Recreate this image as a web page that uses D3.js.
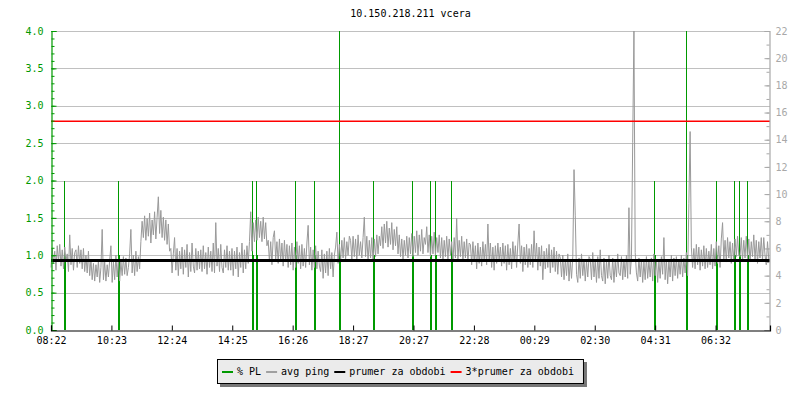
<!DOCTYPE html>
<html lang="en">
  <head>
    <meta charset="UTF-8" />
    <title>10.150.218.211 vcera</title>
    <script src="https://cdn.jsdelivr.net/npm/d3@7"></script>
    <style>
      body {
        margin: 0;
        background: #fff;
      }
      svg text {
        font-family: "DejaVu Sans Mono", monospace;
        font-size: 10px;
      }
      .grid line {
        stroke: #c0c0c0;
      }
    </style>
  </head>
  <body>
    <div id="my_dataviz"></div>
    <script>
      var title = "10.150.218.211 vcera";

      // x axis: minutes since 08:22, one label every 121 minutes
      var tickMinutes = [0, 121, 242, 363, 484, 605, 726, 847, 968, 1089, 1210, 1331];
      var timeLabels = ["08:22", "10:23", "12:24", "14:25", "16:26", "18:27",
        "20:27", "22:28", "00:29", "02:30", "04:31", "06:32"];

      // avg ping [ms], one sample every 2.5 minutes (right axis), one row per hour
      var pingMs = [
        4.6, 6.0, 4.9, 5.8, 4.4, 6.2, 5.0, 6.3, 4.7, 5.9, 4.5, 6.1, 5.1, 5.6, 4.3, 7.0, 4.8, 6.0, 4.4, 5.7, 5.9, 4.6, 6.2, 4.9,
        5.9, 4.5, 6.0, 4.3, 5.5, 4.2, 5.8, 4.0, 5.2, 3.7, 4.9, 3.6, 4.8, 3.9, 5.1, 3.5, 4.6, 7.4, 3.7, 5.0, 3.6, 4.8, 3.9, 5.1,
        6.2, 3.5, 5.0, 3.7, 5.5, 3.9, 5.2, 3.6, 5.0, 4.0, 5.4, 4.1, 5.3, 4.0, 4.6, 5.6, 7.4, 4.2, 5.5, 4.0, 5.8, 4.3, 5.4, 4.5,
        6.5, 8.0, 6.8, 8.4, 6.6, 8.2, 6.9, 8.6, 6.4, 8.1, 7.0, 8.7, 6.7, 8.3, 9.8, 7.1, 8.8, 6.8, 8.3, 6.6, 8.1, 6.3, 7.8, 5.8,
        6.0, 4.2, 5.6, 6.8, 4.4, 6.0, 4.0, 5.8, 4.5, 6.1, 4.1, 5.9, 4.6, 6.3, 3.9, 5.7, 4.3, 6.4, 4.7, 4.2, 6.0, 4.4, 5.8, 4.5,
        5.9, 4.3, 6.2, 4.5, 5.7, 4.1, 6.1, 4.6, 5.8, 4.3, 6.4, 4.2, 7.9, 4.7, 6.0, 4.3, 6.3, 4.6, 4.2, 5.9, 4.6, 6.2, 4.4, 5.8,
        4.4, 6.0, 4.0, 5.8, 4.5, 6.1, 3.9, 5.7, 4.6, 6.4, 4.2, 5.9, 4.5, 6.2, 4.9, 6.5, 8.7, 5.8, 7.9, 6.5, 8.1, 6.6, 8.3, 6.8,
        8.0, 6.5, 8.3, 6.7, 7.9, 6.2, 6.6, 5.0, 6.5, 4.8, 6.8, 7.3, 5.2, 6.5, 4.9, 6.7, 5.1, 6.4, 4.7, 6.6, 5.0, 6.3, 4.6, 6.2,
        4.8, 6.4, 4.4, 6.1, 4.6, 6.5, 4.9, 6.2, 4.5, 6.3, 4.7, 6.0, 4.6, 6.4, 7.7, 4.8, 6.1, 4.4, 5.9, 4.6, 6.2, 4.5, 5.8, 4.7,
        4.3, 5.9, 3.8, 5.6, 4.2, 5.8, 4.0, 6.0, 4.5, 5.7, 3.9, 5.5, 6.1, 7.2, 4.9, 6.3, 5.1, 6.6, 5.3, 6.8, 5.2, 6.5, 5.5, 6.9,
        6.6, 5.2, 6.9, 5.4, 6.7, 5.1, 7.0, 5.5, 6.5, 5.3, 6.8, 8.3, 5.4, 6.9, 5.1, 6.6, 5.3, 6.8, 5.0, 6.7, 5.4, 7.0, 5.6, 6.9,
        6.2, 7.6, 6.0, 7.8, 6.4, 8.0, 6.1, 7.5, 6.3, 7.9, 5.9, 7.4, 6.2, 7.6, 5.6, 7.0, 5.4, 6.7, 5.2, 6.6, 5.5, 6.9, 5.3, 6.8,
        5.6, 7.1, 5.4, 6.9, 5.7, 7.3, 5.5, 7.0, 5.8, 7.4, 5.6, 6.8, 6.3, 7.6, 5.7, 7.0, 5.4, 6.9, 5.6, 7.2, 5.5, 6.8, 5.7, 7.0,
        5.3, 6.8, 5.1, 6.6, 5.4, 6.9, 5.2, 6.7, 5.5, 6.5, 5.0, 6.8, 5.3, 8.2, 5.2, 6.6, 5.4, 6.9, 5.1, 6.5, 5.3, 6.7, 5.0, 6.4,
        6.3, 4.8, 6.5, 5.0, 6.2, 4.5, 6.4, 4.9, 6.1, 4.7, 6.5, 5.1, 6.3, 4.8, 7.8, 5.0, 6.4, 4.6, 6.1, 4.4, 6.2, 4.9, 6.4, 5.1,
        6.1, 4.7, 6.4, 4.9, 6.2, 4.4, 6.3, 4.8, 6.0, 4.5, 6.5, 5.0, 6.2, 4.6, 6.4, 7.8, 4.9, 6.2, 4.3, 6.1, 4.8, 6.3, 4.6, 6.0,
        4.8, 6.3, 4.6, 7.3, 5.0, 6.4, 4.4, 6.1, 4.7, 6.2, 3.7, 5.8, 4.5, 6.0, 4.6, 6.3, 4.2, 5.9, 4.6, 6.1, 4.3, 5.8, 4.1, 5.6,
        5.3, 3.9, 5.5, 3.7, 5.2, 4.0, 5.6, 3.6, 5.1, 3.8, 5.4, 11.8, 8.4, 4.1, 3.5, 5.3, 3.8, 5.6, 4.0, 5.2, 3.6, 5.1, 3.9, 5.4,
        5.2, 3.7, 5.7, 3.9, 5.1, 3.5, 5.4, 3.8, 5.9, 4.0, 3.6, 5.3, 3.4, 5.1, 3.8, 5.5, 4.0, 3.7, 5.3, 3.5, 5.0, 3.9, 5.6, 4.2,
        4.0, 5.4, 3.7, 5.2, 3.9, 5.5, 3.8, 9.0, 4.1, 5.3, 13.8, 22.0, 5.7, 4.2, 3.6, 5.3, 3.9, 5.2, 3.5, 5.0, 3.7, 5.4, 3.8, 5.1,
        3.9, 5.3, 3.6, 5.6, 4.0, 5.2, 3.5, 5.1, 3.8, 5.4, 4.1, 6.8, 3.7, 5.2, 3.4, 5.1, 3.9, 5.5, 3.6, 5.3, 4.0, 5.4, 3.8, 5.2,
        4.1, 5.5, 3.9, 5.3, 4.2, 5.7, 4.0, 9.3, 14.6, 6.1, 4.6, 6.0, 4.5, 6.3, 4.8, 6.1, 4.4, 5.9, 4.7, 6.2, 4.5, 6.0, 4.6, 5.8,
        4.8, 6.3, 4.5, 6.0, 4.7, 6.5, 4.9, 6.2, 4.6, 6.7, 7.9, 5.2, 6.6, 5.0, 6.8, 5.3, 6.5, 4.9, 6.4, 5.1, 6.7, 5.4, 6.9, 5.5,
        5.4, 6.8, 5.1, 6.6, 5.3, 6.9, 5.2, 6.7, 5.0, 6.5, 5.4, 7.0, 5.2, 6.6, 4.9, 6.5, 5.3, 6.8, 5.1, 6.8, 5.5, 4.8, 6.5, 5.2
      ];
      var pingStepMin = 2.5;

      // packet loss [%] spikes (left axis)
      var plMinutes = [27, 135, 402, 410, 489, 526, 576, 644, 723, 759, 770, 802,
        1208, 1271, 1332, 1367, 1377, 1393];
      var plValues = [2, 2, 2, 2, 2, 2, 4, 2, 2, 2, 2, 2, 2, 4, 2, 2, 2, 2];
      var plBase = 1.0;

      var meanPing = 5.12;
      var meanPing3 = 15.36;

      var legendLabels = ["% PL", "avg ping", "prumer za obdobi", "3*prumer za obdobi"];
      var legendColors = ["#009900", "#a0a0a0", "#000000", "#ff0000"];

      var W = 800,
        H = 400;
      var margin = { top: 31, right: 30, bottom: 70, left: 51 };
      var green = "#009900",
        rightGray = "#a8a8a8";

      var svg = d3
        .select("#my_dataviz")
        .append("svg")
        .attr("width", W)
        .attr("height", H)
        .style("display", "block");

      var x = d3
        .scaleLinear()
        .domain([0, 1440])
        .range([margin.left, W - margin.right]);
      var yL = d3
        .scaleLinear()
        .domain([0, 4])
        .range([H - margin.bottom, margin.top]);
      var yR = d3
        .scaleLinear()
        .domain([0, 22])
        .range([H - margin.bottom, margin.top]);

      // title
      svg
        .append("text")
        .attr("x", (margin.left + W - margin.right) / 2)
        .attr("y", 17)
        .attr("text-anchor", "middle")
        .attr("fill", "#000")
        .text(title);

      // grid
      svg
        .append("g")
        .attr("class", "grid")
        .selectAll("line")
        .data(d3.range(0.5, 4.01, 0.5))
        .enter()
        .append("line")
        .attr("x1", x(0))
        .attr("x2", x(1440))
        .attr("y1", (d) => Math.round(yL(d)) + 0.5)
        .attr("y2", (d) => Math.round(yL(d)) + 0.5);

      // packet loss spikes
      var pl = svg.append("g").attr("shape-rendering", "crispEdges");
      pl.selectAll("line")
        .data(plMinutes)
        .enter()
        .append("line")
        .attr("x1", (d) => Math.round(x(d)) + 0.5)
        .attr("x2", (d) => Math.round(x(d)) + 0.5)
        .attr("y1", yL(0))
        .attr("y2", (d, i) => yL(plValues[i]))
        .attr("stroke", green)
        .attr("stroke-width", 1);
      pl.selectAll("rect")
        .data(plMinutes)
        .enter()
        .append("rect")
        .attr("x", (d) => Math.round(x(d)))
        .attr("y", yL(plBase))
        .attr("width", 2)
        .attr("height", yL(0) - yL(plBase))
        .attr("fill", green);

      // avg ping
      var pingLine = d3
        .line()
        .x((d, i) => x(i * pingStepMin))
        .y((d) => yR(Math.min(d, 22)));
      svg
        .append("path")
        .datum(pingMs)
        .attr("d", pingLine)
        .attr("fill", "none")
        .attr("stroke", "#999999")
        .attr("stroke-width", 1);

      // mean lines
      svg
        .append("line")
        .attr("x1", x(0))
        .attr("x2", x(1440))
        .attr("y1", yR(meanPing))
        .attr("y2", yR(meanPing))
        .attr("stroke", "#000")
        .attr("stroke-width", 3);
      svg
        .append("line")
        .attr("x1", x(0))
        .attr("x2", x(1440))
        .attr("y1", yR(meanPing3))
        .attr("y2", yR(meanPing3))
        .attr("stroke", "#ff0000")
        .attr("stroke-width", 1.5);

      function styleAxis(g, color) {
        g.attr("font-family", null).attr("font-size", null);
        g.selectAll(".domain, line").attr("stroke", color);
        g.selectAll("text").attr("fill", color);
      }

      // left axis (green), major + minor ticks pointing inside
      var gL = svg
        .append("g")
        .attr("transform", "translate(" + (margin.left + 0.5) + ",0)")
        .call(
          d3
            .axisLeft(yL)
            .tickValues(d3.range(0, 4.01, 0.5))
            .tickSize(-5)
            .tickPadding(8)
            .tickFormat(d3.format(".1f"))
        );
      styleAxis(gL, green);
      var gLm = svg
        .append("g")
        .attr("transform", "translate(" + (margin.left + 0.5) + ",0)")
        .call(d3.axisLeft(yL).tickValues(d3.range(0, 4.01, 0.1)).tickSize(-3).tickFormat(""));
      gLm.select(".domain").remove();
      styleAxis(gLm, green);

      // right axis (gray)
      var gR = svg
        .append("g")
        .attr("transform", "translate(" + (W - margin.right - 0.5) + ",0)")
        .call(
          d3
            .axisRight(yR)
            .tickValues(d3.range(0, 22.1, 2))
            .tickSize(-5)
            .tickPadding(6)
        );
      styleAxis(gR, rightGray);
      var gRm = svg
        .append("g")
        .attr("transform", "translate(" + (W - margin.right - 0.5) + ",0)")
        .call(d3.axisRight(yR).tickValues(d3.range(0, 22.1, 1)).tickSize(-3).tickFormat(""));
      gRm.select(".domain").remove();
      styleAxis(gRm, rightGray);

      // bottom axis
      var gX = svg
        .append("g")
        .attr("transform", "translate(0," + (H - margin.bottom + 0.5) + ")")
        .call(
          d3
            .axisBottom(x)
            .tickValues(tickMinutes)
            .tickSize(-5)
            .tickPadding(6)
            .tickFormat((d, i) => timeLabels[i])
        );
      styleAxis(gX, "#000");
      svg.selectAll(".domain").attr("stroke-width", 1.2);

      // legend
      var lg = svg.append("g");
      var lx = 217,
        ly = 359,
        lh = 24;
      var shadow = lg.append("rect").attr("fill", "#777");
      var box = lg
        .append("rect")
        .attr("fill", "#ebebeb")
        .attr("stroke", "#000")
        .attr("stroke-width", 1);
      var cx = lx + 5;
      legendLabels.forEach(function (label, i) {
        lg.append("line")
          .attr("x1", cx)
          .attr("x2", cx + 11)
          .attr("y1", ly + 13)
          .attr("y2", ly + 13)
          .attr("stroke", legendColors[i])
          .attr("stroke-width", 2);
        var t = lg
          .append("text")
          .attr("x", cx + 15)
          .attr("y", ly + 16)
          .attr("fill", "#000")
          .text(label);
        cx = cx + 15 + t.node().getComputedTextLength() + 5;
      });
      var lw = cx + 4 - lx;
      box.attr("x", lx + 0.5).attr("y", ly + 0.5).attr("width", lw).attr("height", lh);
      shadow.attr("x", lx + 3).attr("y", ly + 3).attr("width", lw + 1).attr("height", lh + 1);
    </script>
  </body>
</html>
